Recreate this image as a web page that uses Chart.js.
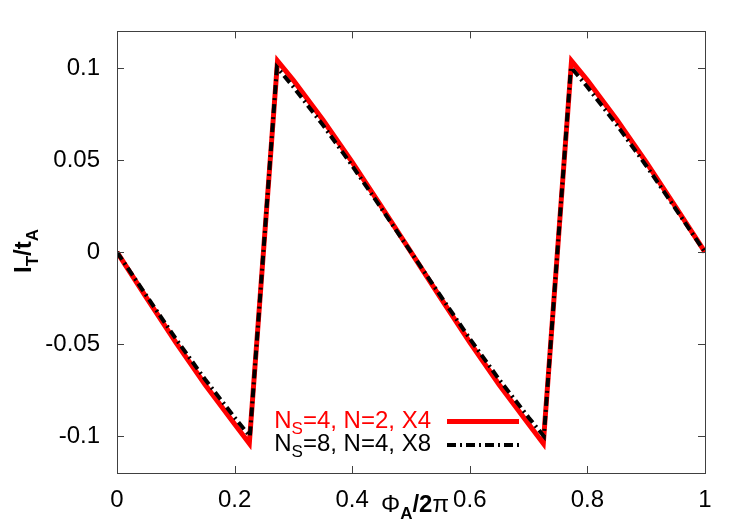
<!DOCTYPE html>
<html>
<head>
<meta charset="utf-8">
<script src="https://cdn.jsdelivr.net/npm/chart.js@4.4.1/dist/chart.umd.min.js"></script>
<style>
  body { margin: 0; background: #fff; }
</style>
</head>
<body>
<canvas id="grafico" width="747" height="523"></canvas>
<script>
// Datos
const xRojo = [0, 0.05, 0.1, 0.15, 0.2, 0.225, 0.273, 0.3, 0.35, 0.4, 0.45, 0.5, 0.55, 0.6, 0.65, 0.7, 0.725, 0.773, 0.8, 0.85, 0.9, 0.95, 1];
const yRojo = [0, -0.0247, -0.049, -0.072, -0.0934, -0.104, 0.104, 0.0934, 0.072, 0.049, 0.0247, 0, -0.0247, -0.049, -0.072, -0.0934, -0.104, 0.104, 0.0934, 0.072, 0.049, 0.0247, 0];
const xNegro = [0, 0.05, 0.1, 0.15, 0.2, 0.226, 0.272, 0.3, 0.35, 0.4, 0.45, 0.5, 0.55, 0.6, 0.65, 0.7, 0.726, 0.772, 0.8, 0.85, 0.9, 0.95, 1];
const yNegro = [0, -0.0236, -0.047, -0.0692, -0.0898, -0.1, 0.1005, 0.0898, 0.0692, 0.047, 0.0236, 0, -0.0236, -0.047, -0.0692, -0.0898, -0.1, 0.1005, 0.0898, 0.0692, 0.047, 0.0236, 0];

const xTicks = [0, 0.2, 0.4, 0.6, 0.8, 1];
const xTickLabels = ['0', '0.2', '0.4', '0.6', '0.8', '1'];
const yTicks = [-0.1, -0.05, 0, 0.05, 0.1];
const yTickLabels = ['-0.1', '-0.05', '0', '0.05', '0.1'];

// Leyenda: [principal, subíndice, resto]
const leyendas = [
    ['N', 'S', '=4, N=2, X4'],
    ['N', 'S', '=8, N=4, X8']
];

const colores = {
    rojo: '#ff0000',
    negro: '#000000',
    marco: '#404040'
};

const fuente = "'Liberation Sans', Arial, Helvetica, sans-serif";
Chart.defaults.font.family = fuente;
Chart.defaults.color = '#000';

// Marco con marcas hacia dentro, títulos de ejes y leyenda
const marco = {
    id: 'marco',
    afterDraw(chart) {
        const ctx = chart.ctx;
        const a = chart.chartArea;
        const sx = chart.scales.x;
        const sy = chart.scales.y;
        ctx.save();
        ctx.strokeStyle = colores.marco;
        ctx.lineWidth = 1;
        ctx.strokeRect(Math.round(a.left) + 0.5, Math.round(a.top) + 0.5, Math.round(a.right - a.left), Math.round(a.bottom - a.top));
        const tl = 7;
        ctx.beginPath();
        xTicks.forEach(v => {
            const px = Math.round(sx.getPixelForValue(v)) + 0.5;
            ctx.moveTo(px, a.bottom); ctx.lineTo(px, a.bottom - tl);
            ctx.moveTo(px, a.top); ctx.lineTo(px, a.top + tl);
        });
        yTicks.forEach(v => {
            const py = Math.round(sy.getPixelForValue(v)) + 0.5;
            ctx.moveTo(a.left, py); ctx.lineTo(a.left + tl, py);
            ctx.moveTo(a.right, py); ctx.lineTo(a.right - tl, py);
        });
        ctx.stroke();

        // Título eje X: Φ_A/2π
        ctx.fillStyle = '#000';
        ctx.textBaseline = 'alphabetic';
        ctx.textAlign = 'left';
        let x = 381;
        const yb = 512;
        ctx.font = '24px ' + fuente;
        ctx.fillText('Φ', x, yb);
        x += ctx.measureText('Φ').width;
        ctx.font = 'bold 17px ' + fuente;
        ctx.fillText('A', x, yb + 7);
        x += ctx.measureText('A').width;
        ctx.font = 'bold 24px ' + fuente;
        ctx.fillText('/2', x, yb);
        x += ctx.measureText('/2').width;
        ctx.font = '24px ' + fuente;
        ctx.fillText('π', x, yb);

        // Título eje Y: I_T/t_A
        ctx.save();
        ctx.translate(31, 273);
        ctx.rotate(-Math.PI / 2);
        let t = 0;
        ctx.font = 'bold 24px ' + fuente;
        ctx.fillText('I', t, 0);
        t += ctx.measureText('I').width;
        ctx.font = 'bold 17px ' + fuente;
        ctx.fillText('T', t, 7);
        t += ctx.measureText('T').width;
        ctx.font = 'bold 24px ' + fuente;
        ctx.fillText('/t', t, 0);
        t += ctx.measureText('/t').width;
        ctx.font = 'bold 17px ' + fuente;
        ctx.fillText('A', t, 7);
        ctx.restore();

        // Leyenda
        chart.data.datasets.forEach((ds, i) => {
            const yl = 421.5 + i * 23.5;
            const base = yl + 6;
            const partes = leyendas[i];
            ctx.font = '24px ' + fuente;
            const w1 = ctx.measureText(partes[0]).width;
            const w3 = ctx.measureText(partes[2]).width;
            ctx.font = '17px ' + fuente;
            const w2 = ctx.measureText(partes[1]).width;
            let lx = 431 - (w1 + w2 + w3);
            ctx.fillStyle = ds.borderColor;
            ctx.textBaseline = 'alphabetic';
            ctx.font = '24px ' + fuente;
            ctx.fillText(partes[0], lx, base);
            lx += w1;
            ctx.font = '17px ' + fuente;
            ctx.fillText(partes[1], lx, base + 6);
            lx += w2;
            ctx.font = '24px ' + fuente;
            ctx.fillText(partes[2], lx, base);

            ctx.beginPath();
            ctx.strokeStyle = ds.borderColor;
            ctx.lineWidth = ds.borderWidth;
            ctx.setLineDash(ds.borderDash || []);
            ctx.moveTo(447, yl);
            ctx.lineTo(519, yl);
            ctx.stroke();
            ctx.setLineDash([]);
        });
        ctx.restore();
    }
};

const ctxGrafico = document.getElementById('grafico');
new Chart(ctxGrafico, {
    type: 'line',
    data: {
        datasets: [{
            label: 'NS=4, N=2, X4',
            data: xRojo.map((v, i) => ({ x: v, y: yRojo[i] })),
            borderColor: colores.rojo,
            borderWidth: 5,
            pointRadius: 0,
            tension: 0,
            order: 2
        }, {
            label: 'NS=8, N=4, X8',
            data: xNegro.map((v, i) => ({ x: v, y: yNegro[i] })),
            borderColor: colores.negro,
            borderWidth: 4,
            borderDash: [9, 4, 2, 4],
            pointRadius: 0,
            tension: 0,
            order: 1
        }]
    },
    options: {
        responsive: false,
        animation: false,
        layout: {
            padding: { top: 29, right: 42, left: 0, bottom: 0 }
        },
        plugins: {
            legend: { display: false },
            tooltip: { enabled: false }
        },
        scales: {
            x: {
                type: 'linear',
                min: 0,
                max: 1,
                afterFit: s => { s.height = 50; },
                afterBuildTicks: s => { s.ticks = xTicks.map(v => ({ value: v })); },
                grid: { display: false, drawTicks: false },
                border: { display: false },
                ticks: {
                    padding: 13,
                    maxRotation: 0,
                    font: { size: 24 },
                    callback: v => xTickLabels[xTicks.indexOf(v)]
                }
            },
            y: {
                type: 'linear',
                min: -0.12,
                max: 0.12,
                afterFit: s => { s.width = 117; },
                afterBuildTicks: s => { s.ticks = yTicks.map(v => ({ value: v })); },
                grid: { display: false, drawTicks: false },
                border: { display: false },
                ticks: {
                    padding: 17,
                    font: { size: 24 },
                    callback: v => yTickLabels[yTicks.indexOf(v)]
                }
            }
        }
    },
    plugins: [marco]
});
</script>
</body>
</html>
